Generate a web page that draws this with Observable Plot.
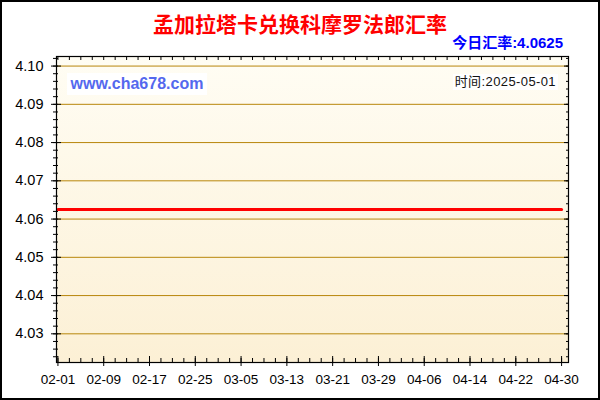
<!DOCTYPE html>
<html><head><meta charset="utf-8">
<script src="https://cdn.jsdelivr.net/npm/d3@7"></script>
<script src="https://cdn.jsdelivr.net/npm/@observablehq/plot@0.6"></script>
<style>
html,body{margin:0;padding:0;background:#fff;}
#wrap{position:relative;width:600px;height:400px;overflow:hidden;font-family:"Liberation Sans","Noto Sans CJK SC",sans-serif;}
#head{position:relative;height:50px;}
#title{position:absolute;left:0;width:600px;top:10px;text-align:center;color:#f00;font-weight:bold;font-size:21px;line-height:26px;font-family:"Noto Sans CJK SC",sans-serif;}
#sub{position:absolute;right:37px;top:34px;color:#00f;font-weight:bold;font-size:15px;line-height:18px;white-space:nowrap;}
#border{position:absolute;left:0;top:0;width:600px;height:400px;box-sizing:border-box;border:2px solid #000;pointer-events:none;}
.note{position:absolute;background:#fff;white-space:nowrap;}
#site{left:67px;top:73px;width:140px;height:22px;line-height:22px;text-align:center;color:#5468ee;font-weight:bold;font-size:16px;font-family:"Liberation Sans",sans-serif;}
#time{right:42px;top:74px;height:16px;line-height:16px;font-size:13px;letter-spacing:0.4px;color:#111;padding:0 2px;}
#chart svg{display:block;}
</style>
</head>
<body>
<div id="wrap">
  <div id="head">
    <div id="title">孟加拉塔卡兑换科摩罗法郎汇率</div>
    <div id="sub">今日汇率:4.0625</div>
  </div>
  <div id="chart"></div>
  <div class="note" id="site">www.cha678.com</div>
  <div class="note" id="time">时间:2025-05-01</div>
  <div id="border"></div>
</div>
<script>
// ---- data ----
const dates = ["2025-02-01","2025-02-09","2025-02-17","2025-02-25","2025-03-05","2025-03-13",
               "2025-03-21","2025-03-29","2025-04-06","2025-04-14","2025-04-22","2025-04-30"];
const rates = [4.0625,4.0625,4.0625,4.0625,4.0625,4.0625,4.0625,4.0625,4.0625,4.0625,4.0625,4.0625];
const xTickLabels = ["02-01","02-09","02-17","02-25","03-05","03-13","03-21","03-29","04-06","04-14","04-22","04-30"];
const yTicks = [4.03,4.04,4.05,4.06,4.07,4.08,4.09,4.10];
const yDomain = [4.0225, 4.1025];

const data = dates.map((d,i)=>({date:new Date(d+"T00:00Z"), rate:rates[i]}));
const xMajor = xTickLabels.map(s=>new Date("2025-"+s+"T00:00Z"));
const xMinor = d3.utcDay.range(new Date("2025-02-01T00:00Z"), new Date("2025-05-02T00:00Z"), 2);
const yMinor = d3.range(4.024, 4.1026, 0.002).map(v=>+v.toFixed(3));
const fmtX = d3.utcFormat("%m-%d");

const chart = Plot.plot({
  width: 600,
  height: 350,
  marginTop: 6,
  marginBottom: 38,
  marginLeft: 56,
  marginRight: 32,
  style: {fontFamily: "'Liberation Sans', Arial, sans-serif", fontSize: "13px", color: "#000", background: "transparent"},
  x: {type: "utc", domain: [new Date("2025-01-31T18:00Z"), new Date("2025-05-01T05:00Z")], label: null},
  y: {domain: yDomain, label: null},
  marks: [
    Plot.frame({fill: "url(#bggrad)", stroke: "none"}),
    Plot.gridY(yTicks, {stroke: "#b8860b", strokeOpacity: 1, strokeWidth: 1}),
    Plot.lineY(data, {x: "date", y: "rate", stroke: "#ff0000", strokeWidth: 3}),
    // left axis
    Plot.axisY(yTicks, {anchor: "left", label: null, tickSize: 5, tickPadding: 8, tickFormat: d3.format(".2f"), fontSize: 14.5, stroke: "#000"}),
    Plot.axisY(yTicks, {anchor: "left", label: null, tickSize: -5, text: null, stroke: "#000"}),
    Plot.axisY(yMinor, {anchor: "left", label: null, tickSize: 3, text: null, stroke: "#000"}),
    Plot.axisY(yMinor, {anchor: "left", label: null, tickSize: -2, text: null, stroke: "#000"}),
    // right axis (inward)
    Plot.axisY(yMinor, {anchor: "right", label: null, tickSize: -3, text: null, stroke: "#000"}),
    Plot.axisY(yTicks, {anchor: "right", label: null, tickSize: -5, text: null, stroke: "#000"}),
    // bottom axis
    Plot.axisX(xMajor, {anchor: "bottom", label: null, tickSize: 4, tickPadding: 8, tickFormat: fmtX, fontSize: 13.5, stroke: "#000"}),
    Plot.axisX(xMinor, {anchor: "bottom", label: null, tickSize: -4, text: null, stroke: "#000"}),
    Plot.axisX(xMajor, {anchor: "bottom", label: null, tickSize: -6, text: null, stroke: "#000"}),
    // top axis (inward)
    Plot.axisX(xMinor, {anchor: "top", label: null, tickSize: -3, text: null, stroke: "#000"}),
    Plot.frame({stroke: "#000", strokeWidth: 1.2})
  ]
});

const ns = "http://www.w3.org/2000/svg";
const defs = document.createElementNS(ns, "defs");
const grad = document.createElementNS(ns, "linearGradient");
grad.setAttribute("id", "bggrad");
grad.setAttribute("x1", "0"); grad.setAttribute("y1", "0");
grad.setAttribute("x2", "0"); grad.setAttribute("y2", "1");
[["0%", "#fffdf4"], ["100%", "#fcf0d5"]].forEach(([o, c]) => {
  const s = document.createElementNS(ns, "stop");
  s.setAttribute("offset", o); s.setAttribute("stop-color", c);
  grad.appendChild(s);
});
defs.appendChild(grad);
chart.insertBefore(defs, chart.firstChild);
document.getElementById("chart").appendChild(chart);
</script>
</body></html>
